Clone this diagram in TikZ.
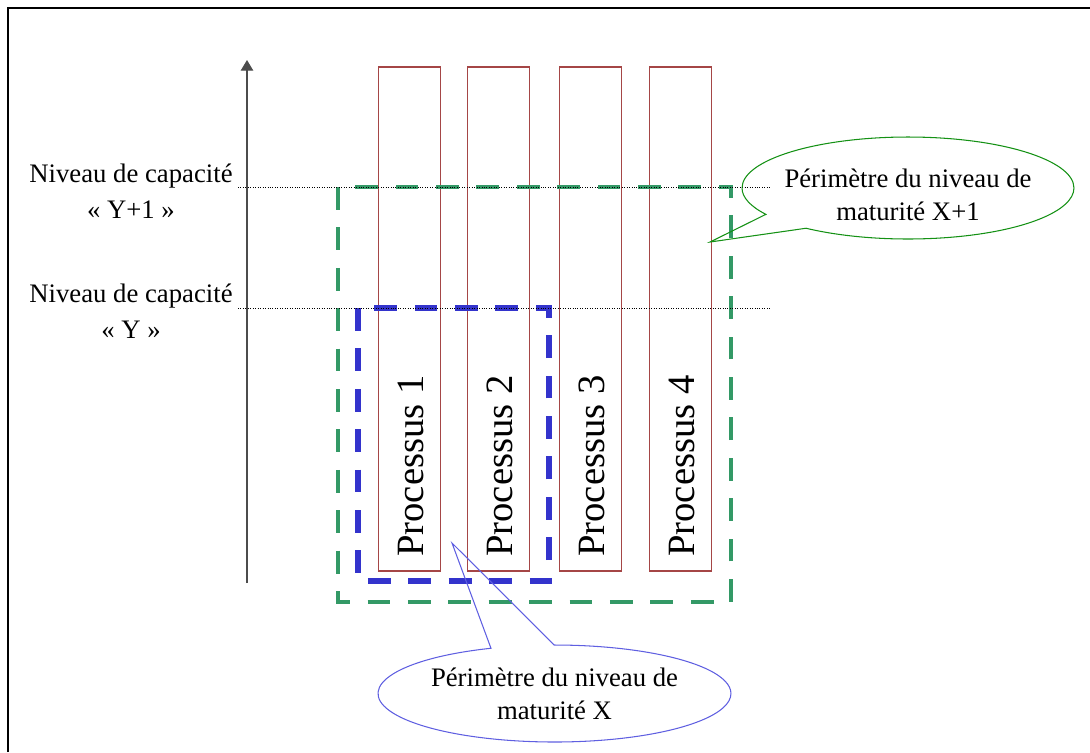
\documentclass[tikz,border=0pt]{standalone}
\usepackage{fontspec}
\setmainfont{Liberation Serif}
\usetikzlibrary{arrows.meta,shapes.callouts}

\definecolor{procred}{RGB}{165,70,70}
\definecolor{pergreen}{RGB}{51,153,102}
\definecolor{perblue}{RGB}{51,51,204}
\definecolor{bubgreen}{RGB}{20,145,20}
\definecolor{bubblue}{RGB}{95,95,225}

\newcommand\lvlfont{\fontsize{15.2}{20.8}\selectfont}
\newcommand\bubfont{\fontsize{15.2}{18.6}\selectfont}
\newcommand\procfont{\fontsize{22}{26}\selectfont}

\begin{document}
\begin{tikzpicture}[x=0.02cm, y=-0.02cm,
    procbox/.style={draw=procred, line width=0.8pt, inner sep=0pt,
        minimum width=1.24cm, minimum height=10.08cm},
    proclabel/.style={rotate=90, font=\procfont, inner sep=0pt},
    levellabel/.style={align=center, font=\lvlfont},
    guide/.style={densely dotted, line width=0.4pt},
    perimeter/.style={dash pattern=on 13pt off 10pt},
    bubble/.style={ellipse callout, line width=0.6pt, inner sep=0pt,
        callout pointer arc=21}]
    \useasboundingbox (0,0) rectangle (1090,752);

    % frame
    \draw[line width=1.3pt] (8.3,752) -- (8.3,8) -- (1090,8);

    % capacity axis
    \coordinate (ax0) at (247,583);
    \coordinate (ax1) at (247,60);
    \draw[black!70, line width=0.6pt, -{Triangle[width=7pt,length=6pt]}] (ax0) -- (ax1);

    % levels
    \node[levellabel] (lvlY1) at (131,191) {Niveau de capacité\\« Y+1 »};
    \node[levellabel] (lvlY) at (131,311) {Niveau de capacité\\« Y »};

    % processes
    \foreach \i/\x in {1/409.5, 2/498.5, 3/590.5, 4/680.5} {
        \node[procbox] (p\i) at (\x,319) {};
        \node[proclabel] (t\i) at (\x+1.5,466) {Processus \i};
    }

    % perimeters
    \draw[pergreen, line width=2.8pt, perimeter] (338,187) rectangle (731,602);
    \draw[perblue, line width=3.2pt, perimeter] (358,308) rectangle (549,581);

    % level guides
    \coordinate (g1a) at (238,187); \coordinate (g1b) at (770,187);
    \coordinate (g2a) at (238,308); \coordinate (g2b) at (770,308);
    \draw[guide] (g1a) -- (g1b);
    \draw[guide] (g2a) -- (g2b);

    % callouts
    \coordinate (tipG) at (710,242);
    \coordinate (tipB) at (452,543);
    \node[bubble, draw=bubgreen, minimum width=6.64cm, minimum height=2.04cm,
        callout absolute pointer=(tipG),
        label={[align=center, font=\bubfont, yshift=-3.7pt]center:Périmètre du niveau de\\maturité X+1}]
        (bubG) at (908,188) {};
    \node[bubble, draw=bubblue, minimum width=7.06cm, minimum height=1.94cm,
        callout absolute pointer=(tipB),
        label={[align=center, font=\bubfont]center:Périmètre du niveau de\\maturité X}]
        (bubB) at (554.5,693.5) {};
\end{tikzpicture}
\end{document}
